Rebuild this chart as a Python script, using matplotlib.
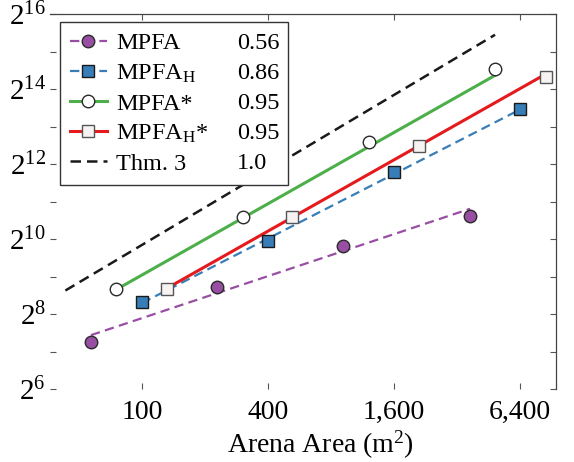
import matplotlib
matplotlib.use('Agg')
import matplotlib.pyplot as plt
import numpy as np
from matplotlib.lines import Line2D
from matplotlib.patches import Rectangle
from matplotlib.ticker import FixedLocator, FuncFormatter, NullLocator
from matplotlib.transforms import IdentityTransform

plt.rcParams['font.family'] = ['Liberation Serif', 'DejaVu Serif']
plt.rcParams['mathtext.fontset'] = 'custom'
plt.rcParams['mathtext.rm'] = 'Liberation Serif'
plt.rcParams['mathtext.it'] = 'Liberation Serif:italic'
plt.rcParams['mathtext.bf'] = 'Liberation Serif:bold'

# values (x: arena area in m^2)
mpfa_x = [57, 228, 913, 3690]
mpfa_y = [152, 422, 898, 1565]
mpfah_x = [100, 400, 1600, 6400]
mpfah_y = [320, 988, 3540, 11340]
mpfas_x = [75, 304, 1215, 4860]
mpfas_y = [406, 1538, 6152, 23700]
mpfahs_x = [132, 521, 2105, 8520]
mpfahs_y = [406, 1538, 5712, 20450]
thm_x = [43, 4860]

names = ['MPFA', r'MPFA$_\mathrm{H}$', 'MPFA*', r'MPFA$_\mathrm{H}$*', 'Thm. 3']
slopes = [0.56, 0.86, 0.95, 0.95, 1.0]
slope_labels = ['0.56', '0.86', '0.95', '0.95', '1.0']
intercepts = [4.17, 2.58, 2.73, 2.00, 3.20]  # log2 intercepts of the fits

x_ticks = [100, 400, 1600, 6400]
x_ticklabels = ['100', '400', '1,600', '6,400']
y_exps = list(range(6, 17))

purple = '#984ea3'
blue = '#377eb8'
green = '#4daf4a'
red = '#e41a1c'
black = '#1a1a1a'

series_x = [mpfa_x, mpfah_x, mpfas_x, mpfahs_x, thm_x]
series_y = [mpfa_y, mpfah_y, mpfas_y, mpfahs_y, None]
colors = [purple, blue, green, red, black]
styles = ['--', '--', '-', '-', '--']
widths = [1.6, 1.6, 2.2, 2.2, 1.8]
markers = ['o', 's', 'o', 's', None]
mfcs = [purple, blue, 'white', '#f8f3f3', None]
mecs = ['#2a2a2a', '#1a1a1a', '#2a2a2a', '#555555', None]

fig = plt.figure(figsize=(5.74, 4.62), dpi=100)
ax = fig.add_axes([50 / 574, 1 - 389 / 462, 506 / 574, 375 / 462])
ax.set_xscale('log', base=2)
ax.set_yscale('log', base=2)

handles = []
for i in range(5):
    xf = np.array([min(series_x[i]), max(series_x[i])], dtype=float)
    yf = 2 ** (intercepts[i] + slopes[i] * np.log2(xf))
    dash = dict(dashes=(4.2, 2.4)) if styles[i] == '--' else {}
    ax.plot(xf, yf, color=colors[i], lw=widths[i], ls=styles[i], zorder=2, **dash)
    if series_y[i] is not None:
        ax.plot(series_x[i], series_y[i], ls='none', marker=markers[i], ms=9,
                mfc=mfcs[i], mec=mecs[i], mew=1.0, zorder=4)
        handles.append(Line2D([], [], color=colors[i], lw=widths[i], ls=styles[i],
                              marker=markers[i], ms=9, mfc=mfcs[i], mec=mecs[i],
                              mew=1.0, **dash))
    else:
        handles.append(Line2D([], [], color=colors[i], lw=widths[i], ls=styles[i], **dash))

ax.set_xlim(36.3, 9500)
ax.set_ylim(2 ** 6, 2 ** 16)

ax.xaxis.set_major_locator(FixedLocator(x_ticks))
ax.xaxis.set_major_formatter(FuncFormatter(lambda v, p: x_ticklabels[x_ticks.index(int(round(v)))]))
ax.xaxis.set_minor_locator(NullLocator())
ax.yaxis.set_major_locator(FixedLocator([2 ** e for e in y_exps]))
ax.yaxis.set_major_formatter(FuncFormatter(
    lambda v, p: r'$\mathrm{2^{%d}}$' % round(np.log2(v)) if round(np.log2(v)) % 2 == 0 else ''))
ax.yaxis.set_minor_locator(NullLocator())

ax.tick_params(which='both', direction='in', top=True, right=True, length=4.5,
               width=0.8, color='#555555')
ax.tick_params(axis='x', pad=8, labelsize=20)
ax.tick_params(axis='y', pad=3, labelsize=21)
ax.spines['left'].set_visible(False)
ax.spines['bottom'].set_visible(False)
for s in ['top', 'right']:
    ax.spines[s].set_color('#444444')
    ax.spines[s].set_linewidth(0.9)

ax.set_xlabel(r'Arena Area (m$^\mathrm{2}$)', fontsize=20, labelpad=1)
ax.xaxis.set_label_coords(0.534, -0.105)

leg = ax.legend(handles, names, loc='upper left', bbox_to_anchor=(10 / 506, 367 / 375),
                borderaxespad=0, fontsize=17.5, handlelength=1.5, handletextpad=0.4,
                labelspacing=0.33, borderpad=0.42, fancybox=False, framealpha=1)

# place the slope column and a wider frame once the legend is laid out
fig.canvas.draw()
rend = fig.canvas.get_renderer()
fb = leg.get_frame().get_window_extent(rend)
leg.get_frame().set_visible(False)
ax.add_patch(Rectangle((fb.x0, fb.y0), 288 - fb.x0, fb.height, transform=IdentityTransform(),
                       facecolor='white', edgecolor='#333333', lw=1.0, zorder=4.5, clip_on=False))
for h, lab in zip(leg.legend_handles, slope_labels):
    bb = h.get_window_extent(rend)
    ax.text(237, (bb.y0 + bb.y1) / 2, lab, transform=IdentityTransform(), fontsize=17.5,
            ha='left', va='center_baseline', zorder=6)

fig.savefig('out.png', dpi=100)
